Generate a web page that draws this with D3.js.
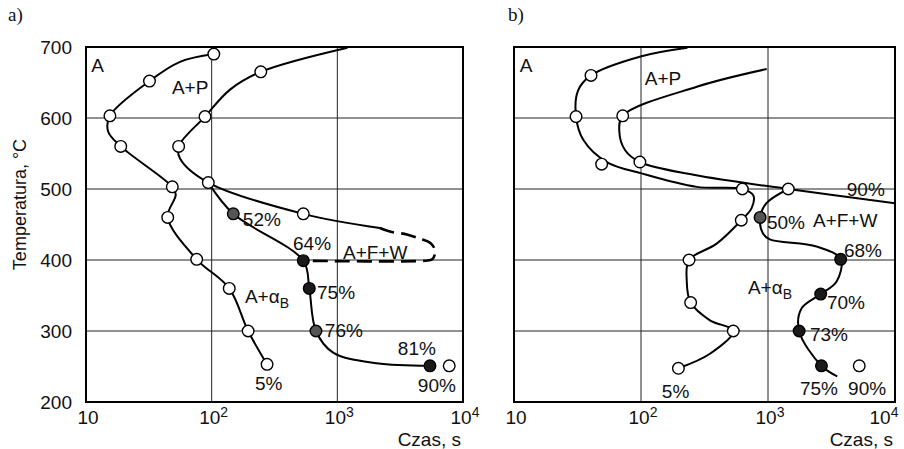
<!DOCTYPE html>
<html>
<head>
<meta charset="utf-8">
<script src="https://cdn.jsdelivr.net/npm/d3@7"></script>
<style>
  body { margin: 0; background: #fff; }
  text { font-family: "Liberation Sans", Arial, sans-serif; fill: #111; }
</style>
</head>
<body>
<div id="root"></div>
<script>
// Time / temperature domains of both panels
const timeDomain = [10, 1e4]
const tempDomain = [200, 700]
const tempTicks = [200, 300, 400, 500, 600, 700]
const timeTicks = [[10, ''], [100, '2'], [1000, '3'], [10000, '4']]

// Panel a) – curves as [czas s, temperatura °C]
const aStart = [[104, 690], [56, 679], [32, 652], [15.5, 603], [15, 581], [18.9, 560], [48.6, 503], [51.8, 492], [44.7, 460], [76, 401], [138, 360], [195, 300], [276, 253]]
const aEnd = [[1203, 699], [246, 665], [140, 640], [88.5, 602], [54.6, 560], [56, 543], [94, 509], [536, 465], [2180, 445]]
const aDash = [[2180, 445], [2620, 440], [3580, 436], [4540, 430], [5500, 424], [6000, 413], [5700, 401], [5000, 399], [537, 399]]
const aBainite = [[94, 509], [148.6, 465], [536, 399], [598, 360], [676, 300], [927, 269.5], [2051, 254.5], [5460, 251]]
const aOpen = [[104, 690], [32, 652], [15.5, 603], [18.9, 560], [48.6, 503], [44.7, 460], [76, 401], [138, 360], [195, 300], [276, 253], [246, 665], [88.5, 602], [54.6, 560], [94, 509], [536, 465], [7770, 251]]
const aFilled = [[5460, 251], [536, 399], [598, 360]]
const aHatched = [[148.6, 465], [676, 300]]
const aLabels = [
  ['A', 11, 675], ['A+P', 48.3, 644], ['52%', 177, 458], ['64%', 444, 424], ['A+F+W', 1109, 411],
  ['75%', 689, 355], ['A+α|B', 184, 349], ['76%', 795, 301], ['81%', 3030, 276], ['90%', 4370, 224], ['5%', 221, 227]
]

// Panel b)
const bStart = [[232, 699], [101, 687], [40.4, 660], [32, 639], [30.8, 602], [35.2, 569], [53.7, 538], [101, 522], [275, 503], [628, 500], [766, 491], [743, 473], [616, 456], [394, 423], [239, 400], [229, 372], [246, 340], [349, 315], [533, 300], [349, 268], [197, 247.5]]
const bEnd = [[977, 669], [275, 644], [71.8, 603], [67.5, 581], [74.8, 555], [98, 538], [259, 520], [1445, 500], [10000, 480]]
const bBainite = [[1445, 500], [972, 480], [867, 460], [916, 437], [1033, 429], [2408, 419], [3735, 401], [3460, 369.5], [2600, 352], [1840, 332], [1758, 300], [2636, 251], [3510, 236]]
const bOpen = [[40.4, 660], [30.8, 602], [49, 535], [628, 500], [616, 456], [239, 400], [246, 340], [533, 300], [197, 247.5], [71.8, 603], [98, 538], [1445, 500], [5230, 251]]
const bFilled = [[3735, 401], [2600, 352], [1758, 300], [2636, 251]]
const bHatched = [[867, 460]]
const bLabels = [
  ['A', 11.1, 675], ['A+P', 107, 656], ['90%', 4170, 500], ['50%', 982, 453], ['A+F+W', 2260, 456],
  ['68%', 3960, 414], ['A+α|B', 695, 362], ['70%', 2910, 341], ['73%', 2140, 296], ['75%', 1785, 220],
  ['90%', 4270, 220], ['5%', 146, 215]
]

const svg = d3.select('#root').append('svg')
  .attr('width', 904).attr('height', 449)

const y = d3.scaleLinear().domain(tempDomain).range([402, 47])

function panel(x0, x1, tag, tagX, curves, dashed, open, filled, hatched, labels, showY) {
  const x = d3.scaleLog().domain(timeDomain).range([x0, x1])
  const g = svg.append('g')

  // grid
  g.selectAll('.gx').data([100, 1000]).enter().append('line')
    .attr('x1', d => x(d)).attr('x2', d => x(d)).attr('y1', y(700)).attr('y2', y(200))
    .attr('stroke', '#222').attr('stroke-width', 1)
  g.selectAll('.gy').data([300, 400, 500, 600]).enter().append('line')
    .attr('x1', x0).attr('x2', x1).attr('y1', d => y(d)).attr('y2', d => y(d))
    .attr('stroke', '#222').attr('stroke-width', 1)

  // frame
  g.append('rect').attr('x', x0).attr('y', y(700)).attr('width', x1 - x0).attr('height', y(200) - y(700))
    .attr('fill', 'none').attr('stroke', '#000').attr('stroke-width', 2)

  // x tick labels (keep the last one inside the page)
  const xt = g.selectAll('.xt').data(timeTicks).enter().append('text')
    .attr('x', d => Math.min(x(d[0]) + 2, 884)).attr('y', 424)
    .attr('text-anchor', 'middle').attr('font-size', 19)
  xt.append('tspan').text('10')
  xt.append('tspan').attr('dy', -7).attr('font-size', 14).text(d => d[1])

  g.append('text').attr('x', x1 - 2).attr('y', 446).attr('text-anchor', 'end')
    .attr('font-size', 19).text('Czas, s')

  if (showY) {
    g.selectAll('.yt').data(tempTicks).enter().append('text')
      .attr('x', x0 - 14).attr('y', d => y(d)).attr('dy', '0.36em')
      .attr('text-anchor', 'end').attr('font-size', 19).text(d => d)
    g.append('text').attr('transform', `translate(26,${(y(700) + y(200)) / 2 - 20}) rotate(-90)`)
      .attr('text-anchor', 'middle').attr('font-size', 18).text('Temperatura, °C')
  }

  g.append('text').attr('x', tagX).attr('y', 21)
    .style('font-family', '"Liberation Serif", "Times New Roman", serif')
    .attr('font-size', 19).text(tag)

  const line = d3.line().x(d => x(d[0])).y(d => y(d[1])).curve(d3.curveCatmullRom.alpha(0.5))

  curves.forEach(c => {
    g.append('path').datum(c).attr('d', line)
      .attr('fill', 'none').attr('stroke', '#000').attr('stroke-width', 2)
  })
  if (dashed) {
    g.append('path').datum(dashed).attr('d', line)
      .attr('fill', 'none').attr('stroke', '#000').attr('stroke-width', 2.6)
      .attr('stroke-dasharray', '15,7')
  }

  const dot = (data, fill) => g.selectAll(null).data(data).enter().append('circle')
    .attr('cx', d => x(d[0])).attr('cy', d => y(d[1])).attr('r', 5.8)
    .attr('fill', fill).attr('stroke', '#000').attr('stroke-width', 1.4)
  dot(open, '#fff')
  dot(filled, '#1a1a1a')
  dot(hatched, '#555')

  // annotations
  labels.forEach(([t, tx, ty]) => {
    const el = g.append('text').attr('x', x(tx)).attr('y', y(ty)).attr('dy', '0.36em')
      .attr('font-size', 19)
    const parts = t.split('|')
    el.append('tspan').text(parts[0])
    if (parts[1]) el.append('tspan').attr('dy', 5).attr('font-size', 14).text(parts[1])
  })
}

panel(86, 463, 'a)', 8, [aStart, aEnd, aBainite], aDash, aOpen, aFilled, aHatched, aLabels, true)
panel(514, 895, 'b)', 508, [bStart, bEnd, bBainite], null, bOpen, bFilled, bHatched, bLabels, false)
</script>
</body>
</html>
